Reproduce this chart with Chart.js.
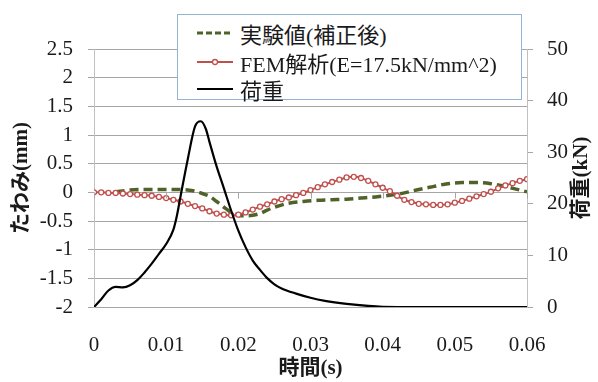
<!DOCTYPE html>
<html>
<head>
<meta charset="utf-8">
<script src="https://cdn.jsdelivr.net/npm/chart.js@4.4.0/dist/chart.umd.min.js"></script>
<style>
    html, body { margin: 0; padding: 0; background: #ffffff; }
    #wrap { position: relative; width: 598px; height: 382px; }
    #legend {
        position: absolute; left: 177px; top: 14px; width: 343px; height: 84px;
        background: #ffffff; border: 1px solid #95b3d7;
        font-family: 'Liberation Serif', 'Noto Sans CJK JP', serif; font-size: 22px; color: #1a1a1a;
    }
    #legend .row { position: absolute; left: 19px; height: 26px; display: flex; align-items: center; white-space: nowrap; }
    #legend svg { margin-right: 7px; }
</style>
</head>
<body>
<div id="wrap">
    <canvas id="chart" width="598" height="382"></canvas>
    <div id="legend"></div>
</div>
<script>
(() => {
    'use strict';

    // 時間軸・目盛
    const xTickValues = [0, 0.01, 0.02, 0.03, 0.04, 0.05, 0.06];
    const yTickValues = [-2, -1.5, -1, -0.5, 0, 0.5, 1, 1.5, 2, 2.5];
    const y2TickValues = [0, 10, 20, 30, 40, 50];

    // 実験値(補正後) たわみ (mm)
    const expTime = [0.003, 0.005, 0.007, 0.009, 0.011, 0.013, 0.014, 0.015, 0.016, 0.017, 0.018, 0.019,
        0.020, 0.021, 0.022, 0.023, 0.024, 0.025, 0.027, 0.029, 0.031, 0.033, 0.035, 0.037, 0.039,
        0.041, 0.043, 0.045, 0.047, 0.049, 0.051, 0.053, 0.055, 0.057, 0.059, 0.060];
    const expDefl = [0.01, 0.04, 0.05, 0.05, 0.05, 0.04, 0.02, -0.02, -0.07, -0.16, -0.26, -0.35,
        -0.40, -0.41, -0.40, -0.37, -0.31, -0.26, -0.19, -0.16, -0.14, -0.13, -0.12, -0.10, -0.08,
        -0.05, -0.01, 0.05, 0.10, 0.15, 0.17, 0.17, 0.15, 0.10, 0.04, 0.01];

    // FEM解析 たわみ (mm)
    const femTime = [0, 0.001, 0.002, 0.003, 0.004, 0.005, 0.006, 0.007, 0.008, 0.009,
        0.010, 0.011, 0.012, 0.013, 0.014, 0.015, 0.016, 0.017, 0.018, 0.019,
        0.020, 0.021, 0.022, 0.023, 0.024, 0.025, 0.026, 0.027, 0.028, 0.029,
        0.030, 0.031, 0.032, 0.033, 0.034, 0.035, 0.036, 0.037, 0.038, 0.039,
        0.040, 0.041, 0.042, 0.043, 0.044, 0.045, 0.046, 0.047, 0.048, 0.049,
        0.050, 0.051, 0.052, 0.053, 0.054, 0.055, 0.056, 0.057, 0.058, 0.059, 0.060];
    const femDefl = [0.00, 0.00, -0.01, -0.01, -0.02, -0.03, -0.04, -0.05, -0.06, -0.08,
        -0.10, -0.13, -0.16, -0.20, -0.24, -0.28, -0.33, -0.37, -0.39, -0.40,
        -0.39, -0.35, -0.30, -0.25, -0.21, -0.16, -0.12, -0.09, -0.05, -0.01,
        0.04, 0.09, 0.14, 0.18, 0.22, 0.26, 0.27, 0.25, 0.20, 0.14,
        0.08, 0.02, -0.06, -0.13, -0.17, -0.20, -0.21, -0.22, -0.22, -0.21,
        -0.18, -0.15, -0.11, -0.07, -0.03, 0.01, 0.07, 0.12, 0.16, 0.20, 0.23];

    // 荷重 (kN)
    const loadTime = [0, 0.001, 0.002, 0.003, 0.004, 0.005, 0.006, 0.007, 0.008, 0.009, 0.010,
        0.011, 0.0115, 0.012, 0.013, 0.014, 0.0148, 0.0155, 0.016, 0.017, 0.018, 0.019, 0.020,
        0.021, 0.022, 0.023, 0.024, 0.025, 0.026, 0.028, 0.030, 0.032, 0.035, 0.038, 0.040, 0.045, 0.060];
    const loadKN = [0, 1.5, 3.2, 3.9, 3.8, 4.2, 5.2, 6.7, 8.4, 10.3, 12.2,
        15.0, 17.8, 21.5, 28.7, 35.0, 36.0, 34.5, 32.0, 27.2, 23.0, 18.7, 14.8,
        11.6, 9.0, 7.2, 5.6, 4.4, 3.6, 2.6, 1.8, 1.2, 0.6, 0.2, 0.05, 0, 0];

    const FONT = "'Liberation Serif', 'Noto Sans CJK JP', serif";
    const TEXT = '#1a1a1a';
    const GRID = '#a6a6a6';
    const AXIS = '#c0c0c0';

    const pairs = (xs, ys) => xs.map((x, i) => ({ x, y: ys[i] }));
    const setTicks = values => scale => { scale.ticks = values.map(v => ({ value: v })); };

    const datasets = [
        {
            label: '実験値(補正後)',
            data: pairs(expTime, expDefl),
            yAxisID: 'y',
            borderColor: '#4f6228',
            borderWidth: 3.5,
            borderDash: [9, 5],
            pointRadius: 0,
            tension: 0.4,
            cubicInterpolationMode: 'monotone',
            order: 2
        },
        {
            label: 'FEM解析(E=17.5kN/mm^2)',
            data: pairs(femTime, femDefl),
            yAxisID: 'y',
            borderColor: '#c0504d',
            borderWidth: 2,
            pointRadius: 2.5,
            pointBorderWidth: 1.3,
            pointBackgroundColor: '#ffffff',
            pointBorderColor: '#c0504d',
            tension: 0.3,
            order: 1
        },
        {
            label: '荷重',
            data: pairs(loadTime, loadKN),
            yAxisID: 'y2',
            borderColor: '#000000',
            borderWidth: 2.2,
            pointRadius: 0,
            cubicInterpolationMode: 'monotone',
            order: 0
        }
    ];

    // x軸 (y=0) の目盛線と右軸タイトル
    const extras = {
        id: 'extras',
        afterDatasetsDraw(chart) {
            const { ctx, scales } = chart;
            const y0 = Math.round(scales.y.getPixelForValue(0)) + 0.5;
            ctx.save();
            ctx.strokeStyle = GRID;
            ctx.lineWidth = 1;
            xTickValues.forEach(v => {
                const px = Math.round(scales.x.getPixelForValue(v)) + 0.5;
                ctx.beginPath();
                ctx.moveTo(px, y0);
                ctx.lineTo(px, y0 + 6);
                ctx.stroke();
            });
            ctx.restore();
        },
        afterDraw(chart) {
            const { ctx, chartArea } = chart;
            ctx.save();
            ctx.translate(582, (chartArea.top + chartArea.bottom) / 2);
            ctx.rotate(-Math.PI / 2);
            ctx.textAlign = 'center';
            ctx.textBaseline = 'middle';
            ctx.fillStyle = TEXT;
            ctx.font = 'bold 21px ' + FONT;
            ctx.fillText('荷重(kN)', 0, 0);
            ctx.restore();
        }
    };

    new Chart(document.getElementById('chart').getContext('2d'), {
        type: 'line',
        data: { datasets },
        options: {
            responsive: false,
            animation: false,
            devicePixelRatio: 1,
            layout: { padding: { top: 49, left: 0, right: 0, bottom: 0 } },
            plugins: { legend: { display: false }, tooltip: { enabled: false } },
            scales: {
                x: {
                    type: 'linear',
                    position: 'bottom',
                    min: 0,
                    max: 0.06,
                    afterBuildTicks: setTicks(xTickValues),
                    afterFit: s => { s.height = 75; },
                    ticks: { callback: v => String(v), font: { family: FONT, size: 21 }, color: TEXT, padding: 18, maxRotation: 0, autoSkip: false },
                    grid: { display: false },
                    border: { display: false },
                    title: { display: true, text: '時間(s)', color: TEXT, font: { family: FONT, size: 21, weight: 'bold' }, padding: { top: 0, bottom: 1 } }
                },
                y: {
                    type: 'linear',
                    position: 'left',
                    min: -2,
                    max: 2.5,
                    afterBuildTicks: setTicks(yTickValues),
                    afterFit: s => { s.width = 94; },
                    ticks: { callback: v => String(v), font: { family: FONT, size: 21 }, color: TEXT, padding: 15 },
                    grid: { color: GRID, tickColor: GRID, tickLength: 6 },
                    border: { display: true, color: AXIS },
                    title: { display: true, text: 'たわみ(mm)', color: TEXT, font: { family: FONT, size: 21, weight: 'bold' }, padding: { top: 9, bottom: 0 } }
                },
                y2: {
                    type: 'linear',
                    position: 'right',
                    min: 0,
                    max: 50,
                    afterBuildTicks: setTicks(y2TickValues),
                    afterFit: s => { s.width = 71; },
                    ticks: { callback: v => String(v), font: { family: FONT, size: 21 }, color: TEXT, padding: 14 },
                    grid: { drawOnChartArea: false, color: GRID, tickColor: GRID, tickLength: 6 },
                    border: { display: true, color: AXIS }
                }
            }
        },
        plugins: [extras]
    });

    // 凡例 (HTML)
    const legend = document.getElementById('legend');
    const rowTops = [5, 34, 61];
    datasets.forEach((ds, i) => {
        const row = document.createElement('div');
        row.className = 'row';
        row.style.top = rowTops[i] + 'px';
        let sample = `<line x1="0" y1="6" x2="36" y2="6" stroke="${ds.borderColor}" stroke-width="${ds.borderWidth > 3 ? 3 : 2}"${ds.borderDash ? ' stroke-dasharray="6,3"' : ''}/>`;
        if (ds.pointRadius > 0) {
            sample += `<circle cx="18" cy="6" r="2.5" fill="#fff" stroke="${ds.borderColor}" stroke-width="1.3"/>`;
        }
        row.innerHTML = `<svg width="36" height="12">${sample}</svg><span>${ds.label}</span>`;
        legend.appendChild(row);
    });
})();
</script>
</body>
</html>
